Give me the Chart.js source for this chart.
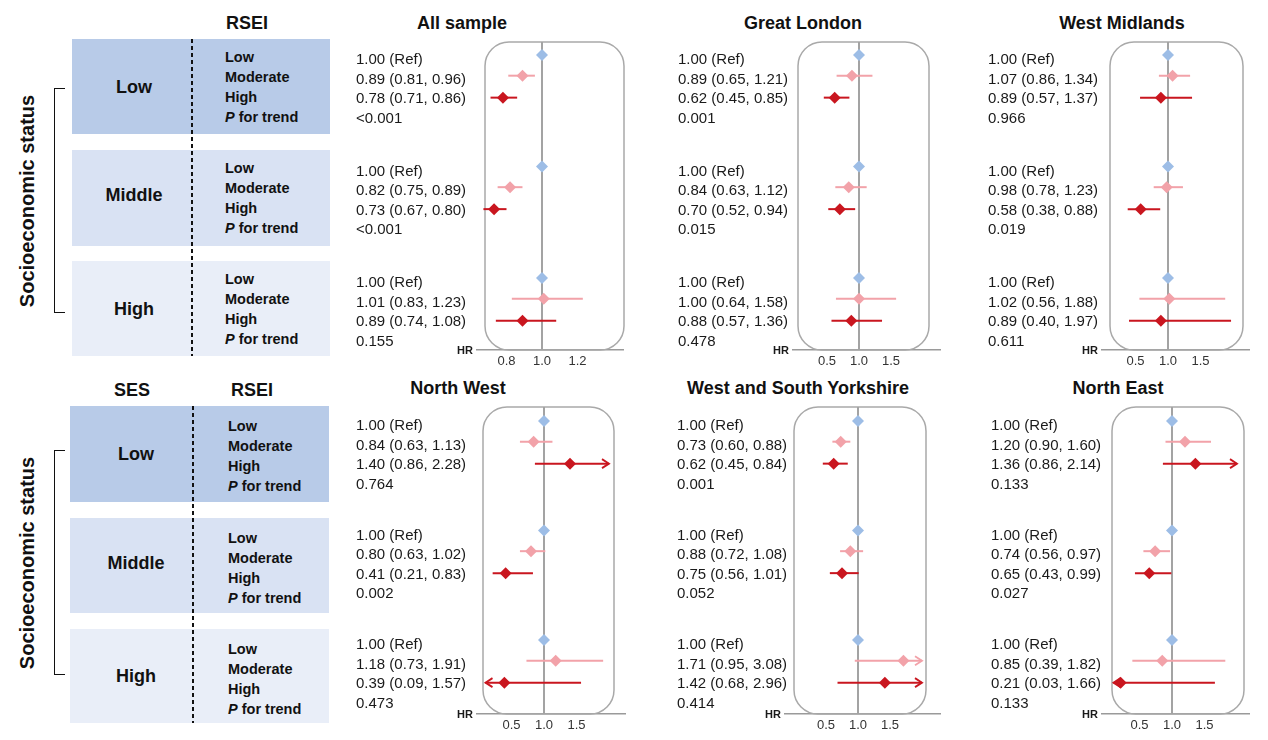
<!DOCTYPE html>
<html><head><meta charset="utf-8">
<script src="https://cdn.jsdelivr.net/npm/chart.js@4.4.1/dist/chart.umd.min.js"></script>
<style>
html,body{margin:0;padding:0;background:#fff;}
#root{position:relative;width:1268px;height:740px;overflow:hidden;font-family:"Liberation Sans",Arial,sans-serif;color:#111;}
.abs{position:absolute;white-space:nowrap;}
.b{font-weight:bold;}
canvas{position:absolute;}
</style></head>
<body><div id="root"></div>
<script>
// ---------------- DATA ----------------
const sesGroups = ['Low', 'Middle', 'High'];
const rseiLevels = ['Low', 'Moderate', 'High'];
const trendLabel = 'for trend';
const panelTitles = ['All sample', 'Great London', 'West Midlands', 'North West', 'West and South Yorkshire', 'North East'];
const tickSetAll = [0.8, 1.0, 1.2];
const tickSetRegion = [0.5, 1.0, 1.5];

// order per panel: [SES Low: Low, Moderate, High, SES Middle: ..., SES High: ...]
const allHR = [1.00, 0.89, 0.78, 1.00, 0.82, 0.73, 1.00, 1.01, 0.89];
const allLo = [null, 0.81, 0.71, null, 0.75, 0.67, null, 0.83, 0.74];
const allHi = [null, 0.96, 0.86, null, 0.89, 0.80, null, 1.23, 1.08];
const allP = ['<0.001', '<0.001', '0.155'];

const londonHR = [1.00, 0.89, 0.62, 1.00, 0.84, 0.70, 1.00, 1.00, 0.88];
const londonLo = [null, 0.65, 0.45, null, 0.63, 0.52, null, 0.64, 0.57];
const londonHi = [null, 1.21, 0.85, null, 1.12, 0.94, null, 1.58, 1.36];
const londonP = ['0.001', '0.015', '0.478'];

const wMidHR = [1.00, 1.07, 0.89, 1.00, 0.98, 0.58, 1.00, 1.02, 0.89];
const wMidLo = [null, 0.86, 0.57, null, 0.78, 0.38, null, 0.56, 0.40];
const wMidHi = [null, 1.34, 1.37, null, 1.23, 0.88, null, 1.88, 1.97];
const wMidP = ['0.966', '0.019', '0.611'];

const nWestHR = [1.00, 0.84, 1.40, 1.00, 0.80, 0.41, 1.00, 1.18, 0.39];
const nWestLo = [null, 0.63, 0.86, null, 0.63, 0.21, null, 0.73, 0.09];
const nWestHi = [null, 1.13, 2.28, null, 1.02, 0.83, null, 1.91, 1.57];
const nWestP = ['0.764', '0.002', '0.473'];

const yorksHR = [1.00, 0.73, 0.62, 1.00, 0.88, 0.75, 1.00, 1.71, 1.42];
const yorksLo = [null, 0.60, 0.45, null, 0.72, 0.56, null, 0.95, 0.68];
const yorksHi = [null, 0.88, 0.84, null, 1.08, 1.01, null, 3.08, 2.96];
const yorksP = ['0.001', '0.052', '0.414'];

const nEastHR = [1.00, 1.20, 1.36, 1.00, 0.74, 0.65, 1.00, 0.85, 0.21];
const nEastLo = [null, 0.90, 0.86, null, 0.56, 0.43, null, 0.39, 0.03];
const nEastHi = [null, 1.60, 2.14, null, 0.97, 0.99, null, 1.82, 1.66];
const nEastP = ['0.133', '0.027', '0.133'];

const panelData = [
  {hr: allHR, lo: allLo, hi: allHi, p: allP, ticks: tickSetAll},
  {hr: londonHR, lo: londonLo, hi: londonHi, p: londonP, ticks: tickSetRegion},
  {hr: wMidHR, lo: wMidLo, hi: wMidHi, p: wMidP, ticks: tickSetRegion},
  {hr: nWestHR, lo: nWestLo, hi: nWestHi, p: nWestP, ticks: tickSetRegion},
  {hr: yorksHR, lo: yorksLo, hi: yorksHi, p: yorksP, ticks: tickSetRegion},
  {hr: nEastHR, lo: nEastLo, hi: nEastHi, p: nEastP, ticks: tickSetRegion}
];

// ---------------- LAYOUT / STYLE ----------------
const levelColors = ['#9DBDE6', '#F2A2A9', '#C9161F'];
const blockColors = ['#B8CBE8', '#D9E2F3', '#E9EEF8'];
const rowLayout = [
  {boxTop: 42, axisY: 350, line0: 60, blockGap: 111.5, lineH: 19.6, titleY: 23},
  {boxTop: 407, axisY: 714, line0: 426, blockGap: 109.5, lineH: 19.6, titleY: 388}
];
const panelLayout = [
  {row: 0, textX: 356, axisL: 477, axisR: 623, one: 542, ppu: 177.5, boxL: 485, boxR: 624, titleX: 462, clip: null},
  {row: 0, textX: 678, axisL: 793, axisR: 940, one: 859, ppu: 64, boxL: 798, boxR: 929, titleX: 803, clip: [0.1, 2.0]},
  {row: 0, textX: 988, axisL: 1102, axisR: 1249, one: 1168, ppu: 65, boxL: 1110, boxR: 1243, titleX: 1122, clip: [0.1, 2.0]},
  {row: 1, textX: 356, axisL: 477, axisR: 625, one: 544, ppu: 65, boxL: 483, boxR: 614, titleX: 458, clip: [0.1, 2.0]},
  {row: 1, textX: 677, axisL: 785, axisR: 940, one: 858, ppu: 64, boxL: 794, boxR: 926, titleX: 798, clip: [0.1, 2.0]},
  {row: 1, textX: 991, axisL: 1102, axisR: 1249, one: 1172, ppu: 65, boxL: 1112, boxR: 1244, titleX: 1118, clip: [0.1, 2.0]}
];
const markerOffset = [-0.25, -0.2, -0.08];
const tables = [
  {tops: [39, 150, 261], bots: [134, 246, 356], left: 72, right: 330, dashX: 191, labelX: 225, sesX: 134, labelOff: 18,
   sesHeaderX: null, rseiX: 247, headerY: 23, bracketX: 54, br1: 88, br2: 313, rotY: 201},
  {tops: [406, 518, 629], bots: [502, 613, 723], left: 70, right: 329, dashX: 192, labelX: 228, sesX: 136, labelOff: 20,
   sesHeaderX: 132, rseiX: 252, headerY: 390, bracketX: 54, br1: 450, br2: 675, rotY: 563}
];

const root = document.getElementById('root');
function addDiv(html, css, cls) {
  const d = document.createElement('div');
  d.className = 'abs ' + (cls || '');
  d.innerHTML = html;
  Object.assign(d.style, css);
  root.appendChild(d);
  return d;
}
function centerText(html, x, y, size, cls) {
  return addDiv(html, {left: x + 'px', top: y + 'px', fontSize: size + 'px', transform: 'translate(-50%,-50%)', lineHeight: '1'}, cls);
}

// ---------------- LEFT TABLES ----------------
tables.forEach(T => {
  T.tops.forEach((t, b) => {
    addDiv('', {left: T.left + 'px', top: t + 'px', width: (T.right - T.left) + 'px', height: (T.bots[b] - t) + 'px', background: blockColors[b]});
    centerText(sesGroups[b], T.sesX, (t + T.bots[b]) / 2 - (b === 1 ? 3 : 0), 18, 'b');
    const lines = rseiLevels.concat(['<i>P</i> ' + trendLabel]);
    lines.forEach((s, r) => {
      addDiv(s, {left: T.labelX + 'px', top: (t + T.labelOff + r * 20) + 'px', fontSize: '14.5px', lineHeight: '1', transform: 'translateY(-50%)'}, 'b');
    });
  });
  addDiv('', {left: T.dashX + 'px', top: T.tops[0] + 'px', width: '2px', height: (T.bots[2] - T.tops[0]) + 'px',
    background: 'repeating-linear-gradient(to bottom,#111 0 4px,transparent 4px 7px)'});
  addDiv('', {left: T.bracketX + 'px', top: T.br1 + 'px', width: '11px', height: (T.br2 - T.br1) + 'px',
    borderLeft: '1.6px solid #111', borderTop: '1.6px solid #111', borderBottom: '1.6px solid #111', boxSizing: 'border-box'});
  addDiv('Socioeconomic status', {left: '27px', top: T.rotY + 'px', fontSize: '20px', lineHeight: '1', transform: 'translate(-50%,-50%) rotate(-90deg)'}, 'b');
  if (T.sesHeaderX !== null) centerText('SES', T.sesHeaderX, T.headerY, 18, 'b');
  centerText('RSEI', T.rseiX, T.headerY, 18, 'b');
});

// ---------------- FOREST PANELS ----------------
const forestPlugin = {
  id: 'forest',
  beforeDatasetsDraw(chart, args, o) {
    const ctx = chart.ctx, a = chart.chartArea, xs = chart.scales.x;
    ctx.save();
    ctx.strokeStyle = '#A9A9A9';
    ctx.lineWidth = 1.5;
    ctx.beginPath();
    ctx.roundRect(o.boxL, a.top, o.boxR - o.boxL, a.bottom - a.top, 24);
    ctx.stroke();
    const x1 = xs.getPixelForValue(1);
    ctx.strokeStyle = '#A3A3A3';
    ctx.lineWidth = 2;
    ctx.beginPath();
    ctx.moveTo(x1, a.top);
    ctx.lineTo(x1, a.bottom);
    ctx.stroke();
    ctx.restore();
  },
  afterDatasetsDraw(chart, args, o) {
    const ctx = chart.ctx, xs = chart.scales.x, ys = chart.scales.y;
    ctx.save();
    ctx.lineWidth = 1.8;
    o.arrows.forEach(ar => {
      const px = xs.getPixelForValue(ar.x), py = ys.getPixelForValue(ar.y);
      const d = ar.dir;
      ctx.strokeStyle = ar.color;
      ctx.beginPath();
      ctx.moveTo(px - d * 7, py - 4.5);
      ctx.lineTo(px, py);
      ctx.lineTo(px - d * 7, py + 4.5);
      ctx.stroke();
    });
    ctx.restore();
  },
  afterDraw(chart, args, o) {
    const ctx = chart.ctx, a = chart.chartArea, ys = chart.scales.y;
    ctx.save();
    ctx.fillStyle = '#1a1a1a';
    ctx.font = '15px "Liberation Sans", Arial, sans-serif';
    ctx.textBaseline = 'middle';
    ctx.textAlign = 'left';
    o.lines.forEach(l => ctx.fillText(l.text, o.textX, ys.getPixelForValue(l.y)));
    ctx.font = 'bold 11px "Liberation Sans", Arial, sans-serif';
    ctx.textAlign = 'right';
    ctx.fillText('HR', a.left - 4, a.bottom + 1);
    ctx.restore();
  }
};

function fmt(v) { return v.toFixed(2); }

panelLayout.forEach((L, i) => {
  const R = rowLayout[L.row], D = panelData[i];
  const cLeft = L.textX - 6, cRight = L.axisR + 8, cTop = R.boxTop - 6;
  const W = cRight - cLeft, H = R.axisY - cTop + 22;
  const xmin = 1 - (L.one - L.axisL) / L.ppu, xmax = 1 + (L.axisR - L.one) / L.ppu;
  const ymin = (R.boxTop - R.line0) / R.lineH, ymax = (R.axisY - R.line0) / R.lineH;
  const gap = R.blockGap / R.lineH;

  centerText(panelTitles[i], L.titleX, R.titleY, 18, 'b');

  const datasets = [];
  rseiLevels.forEach((lev, r) => {
    datasets.push({
      type: 'scatter', label: lev, order: 0, clip: false,
      data: sesGroups.map((g, b) => ({x: D.hr[b * 3 + r], y: b * gap + r + markerOffset[r]})),
      pointStyle: 'rectRot', pointRadius: 6, pointHoverRadius: 6,
      backgroundColor: levelColors[r], borderWidth: 0
    });
  });
  const arrows = [];
  const lines = [];
  sesGroups.forEach((g, b) => {
    rseiLevels.forEach((lev, r) => {
      const k = b * 3 + r;
      const y = b * gap + r;
      if (D.lo[k] === null) {
        lines.push({text: fmt(D.hr[k]) + ' (Ref)', y: y});
        return;
      }
      lines.push({text: fmt(D.hr[k]) + ' (' + fmt(D.lo[k]) + ', ' + fmt(D.hi[k]) + ')', y: y});
      let lo = D.lo[k], hi = D.hi[k];
      const py = y + markerOffset[r];
      if (L.clip) {
        if (lo < L.clip[0]) { lo = L.clip[0]; arrows.push({x: lo, y: py, dir: -1, color: levelColors[r]}); }
        if (hi > L.clip[1]) { hi = L.clip[1]; arrows.push({x: hi, y: py, dir: 1, color: levelColors[r]}); }
      }
      datasets.push({
        type: 'line', label: 'CI', order: 1, clip: false,
        data: [{x: lo, y: py}, {x: hi, y: py}],
        borderColor: levelColors[r], borderWidth: 2, pointRadius: 0, pointHoverRadius: 0, fill: false
      });
    });
    lines.push({text: D.p[b], y: b * gap + 3});
  });

  const cv = document.createElement('canvas');
  cv.width = W; cv.height = H;
  cv.style.left = cLeft + 'px'; cv.style.top = cTop + 'px';
  cv.style.width = W + 'px'; cv.style.height = H + 'px';
  root.appendChild(cv);

  new Chart(cv, {
    type: 'scatter',
    data: {datasets: datasets},
    plugins: [forestPlugin],
    options: {
      responsive: false, animation: false, devicePixelRatio: 1,
      layout: {padding: {left: L.axisL - cLeft, right: cRight - L.axisR, top: R.boxTop - cTop, bottom: 0}},
      plugins: {
        legend: {display: false}, tooltip: {enabled: false},
        forest: {boxL: L.boxL - cLeft, boxR: L.boxR - cLeft, textX: L.textX - cLeft, arrows: arrows, lines: lines}
      },
      scales: {
        x: {
          type: 'linear', min: xmin, max: xmax,
          grid: {display: false, drawTicks: false},
          border: {display: true, color: '#9A9A9A', width: 1.5},
          afterBuildTicks: s => { s.ticks = D.ticks.map(v => ({value: v})); },
          afterFit: s => { s.height = 22; },
          ticks: {
            color: '#333', padding: 4, autoSkip: false, maxRotation: 0,
            font: {size: 13, family: '"Liberation Sans", Arial, sans-serif'},
            callback: v => Number(v).toFixed(1)
          }
        },
        y: {type: 'linear', display: false, reverse: true, min: ymin, max: ymax}
      }
    }
  });
});
</script>
</body></html>
